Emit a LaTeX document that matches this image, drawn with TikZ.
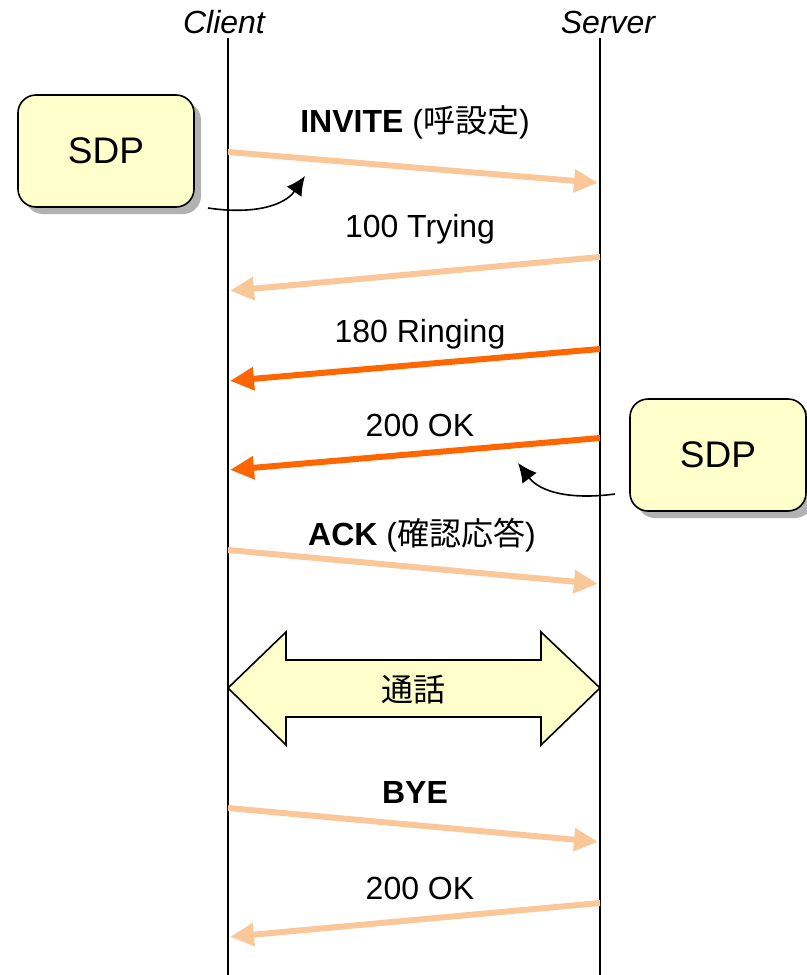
\documentclass[tikz,border=0pt]{standalone}
\usepackage{fontspec}
\setmainfont{Liberation Sans}
\newfontfamily\cjk{Noto Sans CJK JP}
\usepackage{tikz}
\usetikzlibrary{arrows.meta, shadows, positioning}

\definecolor{msglight}{RGB}{250,200,152}
\definecolor{msgdark}{RGB}{255,102,0}
\definecolor{sdpfill}{RGB}{255,255,204}

\begin{document}
\begin{tikzpicture}[x=0.5pt, y=-0.5pt,
    every node/.style={font=\fontsize{16}{18}\selectfont},
    lifeline/.style={draw=black, line width=0.9pt},
    msglite/.style={draw=msglight, line width=3pt, -{Triangle[length=12pt, width=11pt]}, shorten >=1pt},
    msgbold/.style={draw=msgdark, line width=3pt, -{Triangle[length=12pt, width=11pt]}, shorten >=1pt},
    sdpbox/.style={draw=black, line width=0.8pt, fill=sdpfill, rounded corners=9pt,
        minimum width=88pt, minimum height=56pt, font=\fontsize{18.5}{20}\selectfont,
        drop shadow={shadow xshift=3.5pt, shadow yshift=-3.5pt, fill=black!30, opacity=1}},
    pointer/.style={draw=black, line width=0.8pt, -{Latex[length=9.5pt, width=9pt]}}]

\useasboundingbox (0,0) rectangle (807,975);

% Lifelines
\coordinate (cl-top) at (228,38);
\coordinate (cl-bot) at (228,975);
\coordinate (sv-top) at (600,38);
\coordinate (sv-bot) at (600,975);
\draw[lifeline] (cl-top) -- (cl-bot);
\draw[lifeline] (sv-top) -- (sv-bot);

% Labels for lifelines
\node (client) at (224,22) {\itshape Client};
\node (server) at (608,22) {\itshape Server};

% Message end points
\coordinate (inv-a) at (228,152);
\coordinate (inv-b) at (600,183);
\coordinate (try-a) at (600,257);
\coordinate (try-b) at (228,291);
\coordinate (rng-a) at (600,349);
\coordinate (rng-b) at (228,381);
\coordinate (ok-a)  at (600,438);
\coordinate (ok-b)  at (228,470);
\coordinate (ack-a) at (228,550);
\coordinate (ack-b) at (600,584);
\coordinate (bye-a) at (228,808);
\coordinate (bye-b) at (600,842);
\coordinate (fin-a) at (600,903);
\coordinate (fin-b) at (228,937);

% Messages
\draw[msglite] (inv-a) -- (inv-b);
\draw[msglite] (try-a) -- (try-b);
\draw[msgbold] (rng-a) -- (rng-b);
\draw[msgbold] (ok-a) -- (ok-b);
\draw[msglite] (ack-a) -- (ack-b);
\draw[msglite] (bye-a) -- (bye-b);
\draw[msglite] (fin-a) -- (fin-b);

% Labels for messages
\node (inv-lbl) at (415,122) {\textbf{INVITE} ({\cjk 呼設定})};
\node (try-lbl) at (420,229) {100 Trying};
\node (rng-lbl) at (420,334) {180 Ringing};
\node (ok-lbl)  at (420,425) {200 OK};
\node (ack-lbl) at (422,535) {\textbf{ACK} ({\cjk 確認応答})};
\node (bye-lbl) at (415,792) {\textbf{BYE}};
\node (fin-lbl) at (420,888) {200 OK};

% SDP boxes
\node[sdpbox] (sdp-inv) at (106,151) {SDP};
\node[sdpbox] (sdp-ok)  at (718,455) {SDP};

% Pointers from SDP boxes
\coordinate (p1-a) at (208,208);
\coordinate (p1-b) at (305,176);
\coordinate (p2-a) at (615,494);
\coordinate (p2-b) at (518,463);
\draw[pointer] (p1-a) .. controls (255,215) and (285,205) .. (p1-b);
\draw[pointer] (p2-a) .. controls (570,500) and (540,492) .. (p2-b);

% Call (double arrow)
\filldraw[draw=black, line width=0.8pt, fill=sdpfill]
    (228,688) -- (286,632) -- (286,660) -- (541,660) -- (541,632) -- (600,688)
    -- (541,745) -- (541,717) -- (286,717) -- (286,745) -- cycle;
\node (call-lbl) at (413,690) {\cjk 通話};

\end{tikzpicture}
\end{document}
